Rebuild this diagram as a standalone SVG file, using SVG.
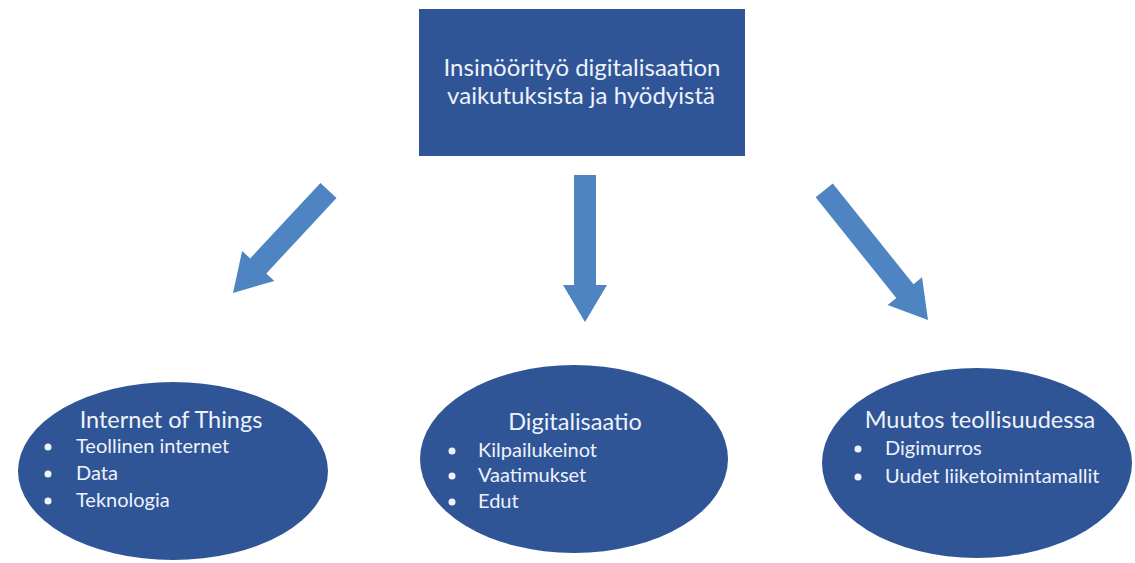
<svg xmlns="http://www.w3.org/2000/svg" width="1135" height="563" viewBox="0 0 1135 563">
<style>
.node{fill:#2F5597;}
.arrow{fill:#4D84C1;}
.t{font-family:Lato,"Open Sans","Liberation Sans",sans-serif;fill:#EEF2FA;}
.head{font-size:24px;}
.title{font-size:23.5px;}
.item{font-size:20px;}
.dot{fill:#EEF2FA;}
</style>
<rect width="1135" height="563" fill="#FFFFFF"/>
<g id="top">
<rect class="node" x="419" y="9" width="326" height="147"/>
<text class="t head" x="582" y="76" text-anchor="middle">Insinöörityö digitalisaation</text>
<text class="t head" x="581" y="104" text-anchor="middle">vaikutuksista ja hyödyistä</text>
</g>
<g id="connectors">
<path class="arrow" transform="translate(233,293) rotate(43)" d="M-11,-140 L11,-140 L11,-37 L22,-37 L0,0 L-22,-37 L-11,-37 Z"/>
<path class="arrow" transform="translate(585,322)" d="M-11,-147 L11,-147 L11,-37 L22,-37 L0,0 L-22,-37 L-11,-37 Z"/>
<path class="arrow" transform="translate(928,320) rotate(-38.7)" d="M-11,-166 L11,-166 L11,-37 L22,-37 L0,0 L-22,-37 L-11,-37 Z"/>
</g>
<g id="iot">
<ellipse class="node" cx="173" cy="471" rx="155" ry="89"/>
<text class="t title" x="171" y="428" text-anchor="middle">Internet of Things</text>
<circle class="dot" cx="48" cy="447" r="3.5"/>
<text class="t item" x="76" y="453">Teollinen internet</text>
<circle class="dot" cx="48" cy="474" r="3.5"/>
<text class="t item" x="76" y="480">Data</text>
<circle class="dot" cx="48" cy="501" r="3.5"/>
<text class="t item" x="76" y="507">Teknologia</text>
</g>
<g id="digi">
<ellipse class="node" cx="574" cy="459" rx="154" ry="94"/>
<text class="t title" x="575" y="430" text-anchor="middle">Digitalisaatio</text>
<circle class="dot" cx="452" cy="451" r="3.5"/>
<text class="t item" x="478" y="457">Kilpailukeinot</text>
<circle class="dot" cx="452" cy="476" r="3.5"/>
<text class="t item" x="478" y="482">Vaatimukset</text>
<circle class="dot" cx="452" cy="502" r="3.5"/>
<text class="t item" x="478" y="508">Edut</text>
</g>
<g id="muutos">
<ellipse class="node" cx="977" cy="463" rx="155" ry="95"/>
<text class="t title" x="980" y="428" text-anchor="middle">Muutos teollisuudessa</text>
<circle class="dot" cx="858" cy="449" r="3.5"/>
<text class="t item" x="885" y="455">Digimurros</text>
<circle class="dot" cx="858" cy="477" r="3.5"/>
<text class="t item" x="885" y="483">Uudet liiketoimintamallit</text>
</g>
</svg>
